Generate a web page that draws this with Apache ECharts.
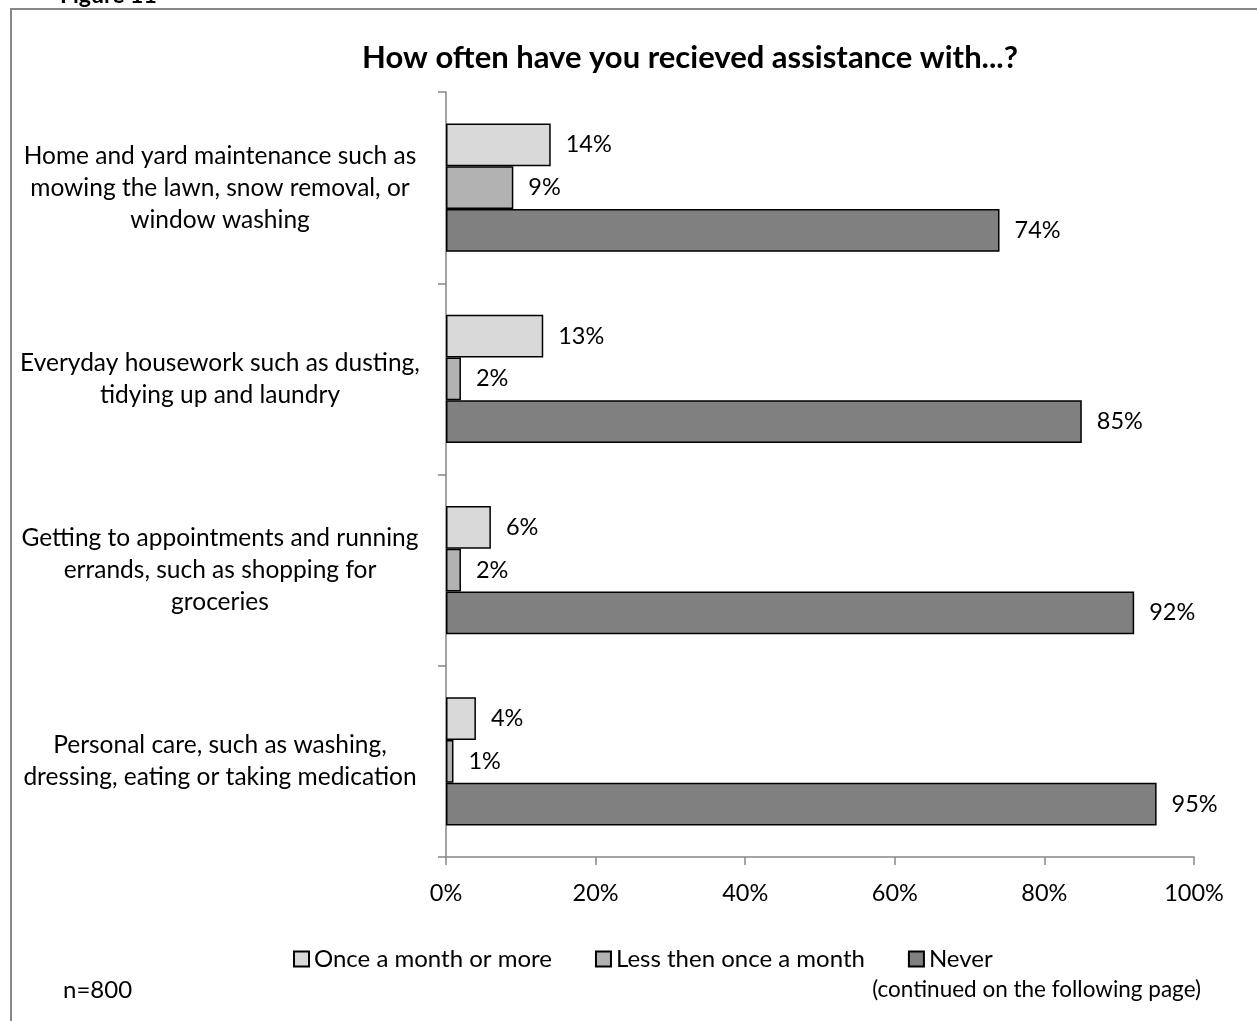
<!DOCTYPE html>
<html>
<head>
<meta charset="utf-8">
<script src="https://cdn.jsdelivr.net/npm/echarts@6/dist/echarts.min.js"></script>
<style>
html,body{margin:0;padding:0;background:#fff;}
#chart{width:1257px;height:1021px;}
</style>
</head>
<body>
<div id="chart"></div>
<script>
const categories = [
  "Home and yard maintenance such as\nmowing the lawn, snow removal, or\nwindow washing",
  "Everyday housework such as dusting,\ntidying up and laundry",
  "Getting to appointments and running\nerrands, such as shopping for\ngroceries",
  "Personal care, such as washing,\ndressing, eating or taking medication"
];
const seriesNames = ["Once a month or more", "Less then once a month", "Never"];
const onceMonthOrMore = [14, 13, 6, 4];
const lessThanOnceMonth = [9, 2, 2, 1];
const never = [74, 85, 92, 95];
const xTickLabels = ["0%", "20%", "40%", "60%", "80%", "100%"];

const FONT = "Lato";
const colors = ["#d9d9d9", "#b2b2b2", "#808080"];
const values = [onceMonthOrMore, lessThanOnceMonth, never];

const chart = echarts.init(document.getElementById('chart'));
chart.setOption({
  animation: false,
  backgroundColor: '#fff',
  textStyle: { fontFamily: FONT, color: '#000' },
  graphic: [
    { type: 'rect', shape: { x: 11, y: 9, width: 1400, height: 1200 }, style: { fill: 'none', stroke: '#888', lineWidth: 2 }, silent: true },
    { type: 'text', x: 60, y: 7, style: { text: 'Figure 11', font: 'bold 23px ' + FONT, fill: '#000', textVerticalAlign: 'bottom' } },
    { type: 'text', x: 690, y: 58, style: { text: 'How often have you recieved assistance with...?', font: 'bold 31px ' + FONT, fill: '#000', textAlign: 'center', textVerticalAlign: 'middle' } },
    { type: 'text', x: 63, y: 990, style: { text: 'n=800', font: '24px ' + FONT, fill: '#000', textVerticalAlign: 'middle' } },
    { type: 'text', x: 1201, y: 990, style: { text: '(continued on the following page)', font: '22.5px ' + FONT, fill: '#000', textAlign: 'right', textVerticalAlign: 'middle' } }
  ],
  legend: {
    data: seriesNames,
    left: 288,
    top: 942,
    icon: 'rect',
    itemWidth: 15,
    itemHeight: 15,
    itemGap: 43,
    textStyle: { fontFamily: FONT, fontSize: 24, color: '#000' }
  },
  grid: { left: 446, top: 92, width: 748, height: 765, containLabel: false },
  xAxis: {
    type: 'value',
    min: 0, max: 100, interval: 20,
    axisLine: { show: true, lineStyle: { color: '#868686', width: 1.5 } },
    axisTick: { show: true, length: 8, lineStyle: { color: '#868686', width: 1.5 } },
    splitLine: { show: false },
    axisLabel: {
      margin: 24, fontFamily: FONT, fontSize: 23.5, color: '#000',
      formatter: function (v) { return xTickLabels[Math.round(v / 20)]; }
    }
  },
  yAxis: {
    type: 'category',
    inverse: true,
    data: categories,
    axisLine: { show: true, lineStyle: { color: '#868686', width: 1.5 } },
    axisTick: { show: true, length: 8, lineStyle: { color: '#868686', width: 1.5 } },
    axisLabel: {
      margin: 226, align: 'center', fontFamily: FONT, fontSize: 24.5, lineHeight: 32, color: '#000'
    }
  },
  series: seriesNames.map((name, i) => ({
    name: name,
    type: 'bar',
    data: values[i],
    barGap: '0%',
    barCategoryGap: '33%',
    itemStyle: { color: colors[i], borderColor: '#000', borderWidth: 1.5 },
    label: {
      show: true, position: 'right', distance: 15,
      fontFamily: FONT, fontSize: 23.5, color: '#000',
      formatter: '{c}%'
    }
  }))
});
</script>
</body>
</html>
